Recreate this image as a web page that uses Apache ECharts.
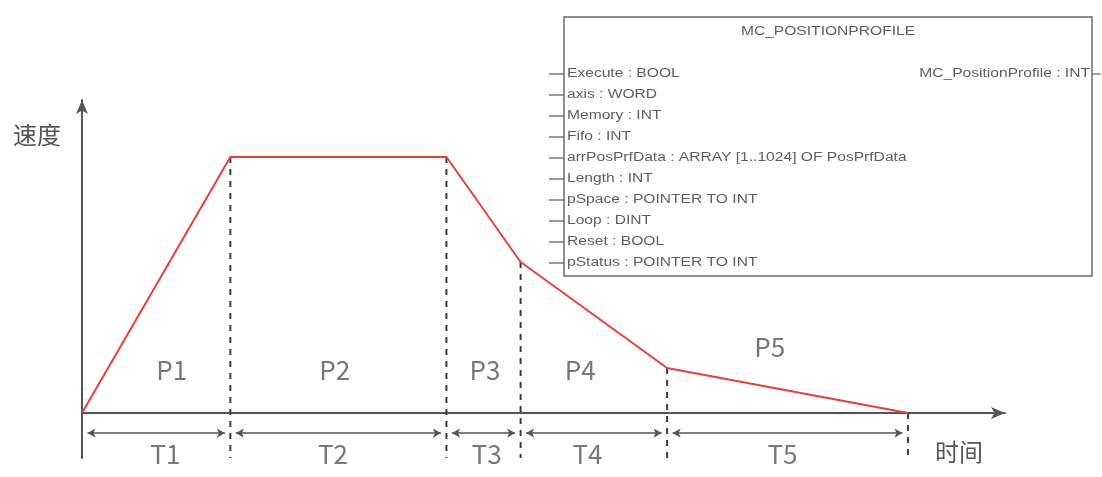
<!DOCTYPE html>
<html>
<head>
<meta charset="utf-8">
<script src="https://cdn.jsdelivr.net/npm/echarts@6/dist/echarts.min.js"></script>
<style>
html,body{margin:0;padding:0;background:#fff;}
#main{width:1102px;height:477px;}
</style>
</head>
<body>
<div id="main"></div>
<script>
// ---- data ----
const tPoints = [0, 16.2, 39.8, 47.9, 63.9, 90.2];
const speed = [0, 85.3, 85.3, 50.3, 15, 0];
const phaseLabels = ['P1', 'P2', 'P3', 'P4', 'P5'];
const timeLabels = ['T1', 'T2', 'T3', 'T4', 'T5'];
const blockTitle = 'MC_POSITIONPROFILE';
const blockInputs = ['Execute : BOOL', 'axis : WORD', 'Memory : INT', 'Fifo : INT',
  'arrPosPrfData : ARRAY [1..1024] OF PosPrfData', 'Length : INT', 'pSpace : POINTER TO INT',
  'Loop : DINT', 'Reset : BOOL', 'pStatus : POINTER TO INT'];
const blockOutput = 'MC_PositionProfile : INT';
const yAxisName = '速度';
const xAxisName = '时间';

// ---- layout (not data) ----
const pLabelPos = [[9.8, 14.3], [27.6, 14.3], [44.0, 14.3], [54.4, 14.3], [75.1, 22]];
const tLabelX = [9.1, 27.4, 44.2, 55.2, 76.5];
const tArrowY = -6.7, tLabelY = -13.7, yMin = -15, gap = 0.6;

const chart = echarts.init(document.getElementById('main'), null, {renderer: 'canvas'});
const gray = '#555';
const series = [];

series.push({
  type: 'line', data: tPoints.map((t, i) => [t, speed[i]]),
  symbol: 'none', lineStyle: {color: '#e5403a', width: 2}, z: 5, silent: true
});
for (let i = 1; i < tPoints.length; i++) {
  series.push({
    type: 'line', data: [[tPoints[i], speed[i]], [tPoints[i], yMin]],
    symbol: 'none', lineStyle: {color: '#3a3a3a', width: 2, type: [6, 6]}, z: 3, silent: true
  });
}
series.push({
  type: 'line', data: [], symbol: 'none', silent: true,
  markLine: {
    silent: true, symbol: ['arrow', 'arrow'], symbolSize: [7, 8],
    lineStyle: {color: '#555', width: 1.5, type: 'solid'}, label: {show: false},
    data: timeLabels.map((_, i) => [
      {coord: [tPoints[i] + gap, tArrowY]},
      {coord: [tPoints[i + 1] - gap, tArrowY]}
    ])
  }
});
series.push({
  type: 'scatter', symbolSize: 0, silent: true,
  data: phaseLabels.map((p, i) => ({value: pLabelPos[i], name: p})),
  label: {show: true, position: 'inside', formatter: '{b}', color: gray,
    fontSize: 26, fontFamily: 'Noto Sans CJK SC'}
});
series.push({
  type: 'scatter', symbolSize: 0, silent: true,
  data: timeLabels.map((p, i) => ({value: [tLabelX[i], tLabelY], name: p})),
  label: {show: true, position: 'inside', formatter: '{b}', color: gray,
    fontSize: 26, fontFamily: 'Noto Sans CJK SC'}
});

// function block graphic
const bx0 = 564, bx1 = 1092, by0 = 17, by1 = 276, sx = 1.3;
const graphic = [
  {type: 'rect', shape: {x: bx0, y: by0, width: bx1 - bx0, height: by1 - by0},
    style: {fill: '#fff', stroke: '#6a6a6a', lineWidth: 1.5}, z: 10},
  {type: 'text', x: (bx0 + bx1) / 2, y: 32, scaleX: sx, z: 11,
    style: {text: blockTitle, fill: '#5e5e5e', font: '12px "Liberation Sans"', align: 'center', verticalAlign: 'middle'}},
  {type: 'text', x: 1090, y: 74, scaleX: sx, z: 11,
    style: {text: blockOutput, fill: '#5e5e5e', font: '12px "Liberation Sans"', align: 'right', verticalAlign: 'middle'}},
  {type: 'line', shape: {x1: bx1, y1: 74, x2: 1101, y2: 74}, style: {stroke: '#666', lineWidth: 1.2}, z: 11},
  {type: 'text', x: 37, y: 135, z: 11,
    style: {text: yAxisName, fill: gray, font: '24px "Noto Sans CJK SC"', align: 'center', verticalAlign: 'middle'}},
  {type: 'text', x: 959, y: 452, z: 11,
    style: {text: xAxisName, fill: gray, font: '24px "Noto Sans CJK SC"', align: 'center', verticalAlign: 'middle'}}
];
blockInputs.forEach((s, i) => {
  const y = 74 + i * 21;
  graphic.push({type: 'line', shape: {x1: 549, y1: y, x2: bx0, y2: y}, style: {stroke: '#555', lineWidth: 1.2}, z: 11});
  graphic.push({type: 'text', x: 567, y: y, scaleX: sx, z: 11,
    style: {text: s, fill: '#5e5e5e', font: '12px "Liberation Sans"', align: 'left', verticalAlign: 'middle'}});
});

chart.setOption({
  animation: false,
  grid: {left: 82, right: 97, top: 100, bottom: 19},
  xAxis: {
    type: 'value', min: 0, max: 100.8,
    axisLine: {onZero: true, symbol: ['none', 'arrow'], symbolSize: [9, 14], lineStyle: {color: gray, width: 2}},
    axisTick: {show: false}, axisLabel: {show: false}, splitLine: {show: false}
  },
  yAxis: {
    type: 'value', min: yMin, max: 104.3,
    axisLine: {show: true, onZero: false, symbol: ['none', 'arrow'], symbolSize: [9, 14], lineStyle: {color: gray, width: 2}},
    axisTick: {show: false}, axisLabel: {show: false}, splitLine: {show: false}
  },
  graphic: graphic,
  series: series
});
</script>
</body>
</html>
